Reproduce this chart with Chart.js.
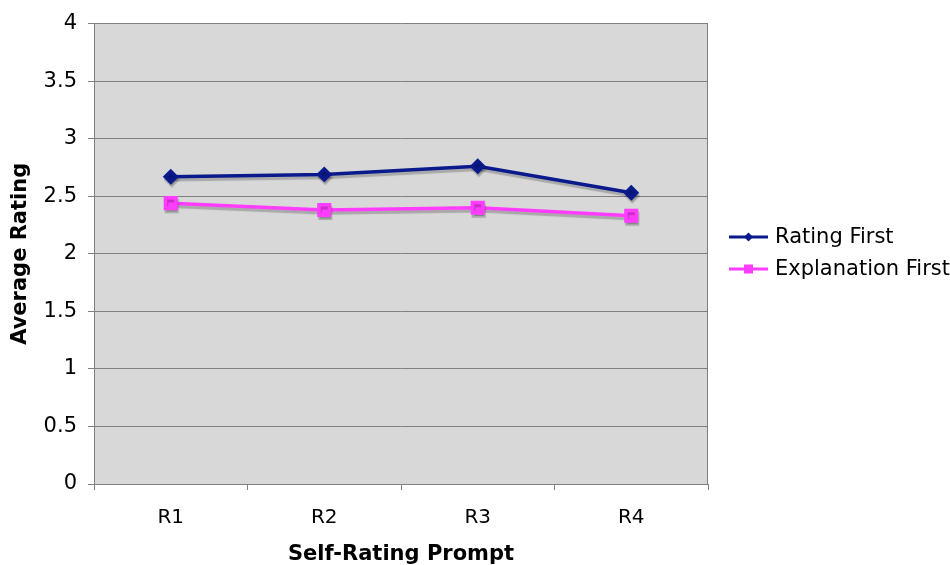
<!DOCTYPE html>
<html>
<head>
<meta charset="utf-8">
<script src="https://cdn.jsdelivr.net/npm/chart.js@4.4.1/dist/chart.umd.min.js"></script>
<style>
  html, body { margin: 0; padding: 0; background: #ffffff; }
  #wrap { width: 950px; height: 565px; position: relative; }
</style>
</head>
<body>
<div id="wrap"><canvas id="c" width="950" height="565"></canvas></div>
<script>
// Self-rating prompts and average ratings per condition
const prompts = ['R1', 'R2', 'R3', 'R4'];
const ratingFirst = [2.67, 2.69, 2.76, 2.53];
const explanationFirst = [2.44, 2.38, 2.40, 2.33];
const yTicks = [0, 0.5, 1, 1.5, 2, 2.5, 3, 3.5, 4];

const FONT = '"DejaVu Sans", Verdana, sans-serif';

// Grey plot background with a thin frame on the right
const plotBackground = {
  id: 'plotBackground',
  beforeDraw(chart) {
    const { ctx, chartArea: a } = chart;
    ctx.save();
    ctx.fillStyle = '#d8d8d8';
    ctx.fillRect(a.left, a.top, a.right - a.left, a.bottom - a.top);
    ctx.strokeStyle = '#808080';
    ctx.lineWidth = 1;
    ctx.beginPath();
    ctx.moveTo(Math.round(a.right) - 0.5, a.top);
    ctx.lineTo(Math.round(a.right) - 0.5, a.bottom);
    ctx.stroke();
    ctx.restore();
  }
};

// Drop shadow under each series line
const lineShadow = {
  id: 'lineShadow',
  beforeDatasetDraw(chart) {
    const ctx = chart.ctx;
    ctx.save();
    ctx.shadowColor = 'rgba(0,0,0,0.22)';
    ctx.shadowOffsetX = 1;
    ctx.shadowOffsetY = 3;
    ctx.shadowBlur = 1;
  },
  afterDatasetDraw(chart) {
    chart.ctx.restore();
  }
};

// Legend on the right: short line with the series marker in the middle
const sideLegend = {
  id: 'sideLegend',
  afterDraw(chart) {
    const ctx = chart.ctx;
    const x0 = 729, x1 = 768, textX = 775;
    const rows = [237, 269];
    ctx.save();
    chart.data.datasets.forEach((ds, i) => {
      const y = rows[i];
      ctx.strokeStyle = ds.borderColor;
      ctx.lineWidth = 3;
      ctx.beginPath();
      ctx.moveTo(x0, y);
      ctx.lineTo(x1, y);
      ctx.stroke();
      ctx.fillStyle = ds.borderColor;
      const cx = (x0 + x1) / 2;
      if (ds.pointStyle === 'rectRot') {
        ctx.beginPath();
        ctx.moveTo(cx, y - 4.5);
        ctx.lineTo(cx + 4.5, y);
        ctx.lineTo(cx, y + 4.5);
        ctx.lineTo(cx - 4.5, y);
        ctx.closePath();
        ctx.fill();
      } else {
        ctx.fillRect(cx - 4.5, y - 4.5, 9, 9);
      }
      ctx.fillStyle = '#000000';
      ctx.font = '21px ' + FONT;
      ctx.textBaseline = 'middle';
      ctx.textAlign = 'left';
      ctx.fillText(ds.label, textX, y + 1);
    });
    ctx.restore();
  }
};

new Chart(document.getElementById('c'), {
  type: 'line',
  data: {
    labels: prompts,
    datasets: [
      {
        label: 'Rating First',
        data: ratingFirst,
        borderColor: '#0a1a8c',
        backgroundColor: '#0a1a8c',
        borderWidth: 3.5,
        pointStyle: 'rectRot',
        pointRadius: 5.5,
        pointHoverRadius: 5.5,
        tension: 0
      },
      {
        label: 'Explanation First',
        data: explanationFirst,
        borderColor: '#ff3cff',
        backgroundColor: '#ff3cff',
        borderWidth: 3.5,
        pointStyle: 'rect',
        pointRadius: 7.5,
        pointHoverRadius: 7.5,
        tension: 0
      }
    ]
  },
  options: {
    responsive: false,
    animation: false,
    events: [],
    layout: { padding: { top: 22, right: 242, left: 0, bottom: 0 } },
    plugins: {
      legend: { display: false },
      tooltip: { enabled: false }
    },
    scales: {
      x: {
        type: 'category',
        offset: true,
        grid: {
          offset: true,
          drawOnChartArea: false,
          drawTicks: true,
          tickLength: 6,
          color: '#808080'
        },
        border: { color: '#808080', width: 1 },
        ticks: {
          color: '#000000',
          font: { family: FONT, size: 20 },
          padding: 16
        },
        title: {
          display: true,
          text: 'Self-Rating Prompt',
          color: '#000000',
          font: { family: FONT, size: 21, weight: 'bold' },
          padding: { top: 0, bottom: -2 }
        },
        afterFit(scale) { scale.height = 81; }
      },
      y: {
        min: 0,
        max: 4,
        afterBuildTicks(scale) {
          scale.ticks = yTicks.map(v => ({ value: v }));
        },
        grid: {
          color: '#808080',
          lineWidth: 1,
          tickLength: 6,
          drawTicks: true
        },
        border: { color: '#808080', width: 1 },
        ticks: {
          color: '#000000',
          font: { family: FONT, size: 21 },
          padding: 11,
          callback: v => String(v)
        },
        title: {
          display: true,
          text: 'Average Rating',
          color: '#000000',
          font: { family: FONT, size: 21, weight: 'bold' },
          padding: { top: 8, bottom: 0 }
        },
        afterFit(scale) { scale.width = 94; }
      }
    }
  },
  plugins: [plotBackground, lineShadow, sideLegend]
});
</script>
</body>
</html>
